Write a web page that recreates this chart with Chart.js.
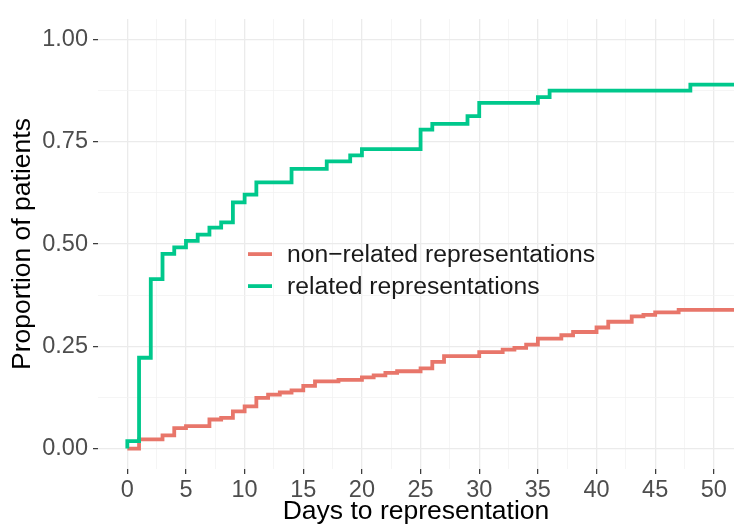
<!DOCTYPE html>
<html>
<head>
<meta charset="utf-8">
<script src="https://cdn.jsdelivr.net/npm/chart.js@4"></script>
<style>
  body { margin: 0; background: #fff; }
  #wrap { width: 734px; height: 525px; }
</style>
</head>
<body>
<div id="wrap"><canvas id="kmChart"></canvas></div>
<script>
// data
const seriesNames = ['non\u2212related representations', 'related representations'];

const nonRelatedDays = [0, 1, 3, 4, 5, 7, 8, 9, 10, 11, 12, 13, 14, 15, 16, 18, 20, 21, 22, 23, 25, 26, 27, 30, 32, 33, 34, 35, 37, 38, 40, 41, 43, 44, 45, 47, 52];
const nonRelatedValues = [0, 0.0225, 0.032, 0.050, 0.055, 0.071, 0.075, 0.091, 0.103, 0.124, 0.132, 0.137, 0.142, 0.153, 0.164, 0.168, 0.174, 0.179, 0.185, 0.189, 0.196, 0.212, 0.226, 0.236, 0.242, 0.246, 0.254, 0.269, 0.277, 0.285, 0.296, 0.310, 0.323, 0.327, 0.333, 0.339, 0.339];

const relatedDays = [0, 0, 1, 2, 3, 4, 5, 6, 7, 8, 9, 10, 11, 14, 17, 19, 20, 25, 26, 29, 30, 35, 36, 48, 52];
const relatedValues = [0, 0.018, 0.222, 0.414, 0.476, 0.492, 0.508, 0.523, 0.540, 0.553, 0.602, 0.621, 0.651, 0.684, 0.702, 0.717, 0.732, 0.780, 0.794, 0.813, 0.845, 0.859, 0.875, 0.890, 0.890];

const xTicks = [0, 2.5, 5, 7.5, 10, 12.5, 15, 17.5, 20, 22.5, 25, 27.5, 30, 32.5, 35, 37.5, 40, 42.5, 45, 47.5, 50];
const yTicks = [0, 0.125, 0.25, 0.375, 0.5, 0.625, 0.75, 0.875, 1];

const colors = ['#E8766A', '#00C88C'];

function toPoints(days, values) {
    return days.map((d, i) => ({ x: d, y: values[i] }));
}

const isMajorX = v => v % 5 === 0;
const isMajorY = v => Math.abs(v * 4 - Math.round(v * 4)) < 1e-9;

// legend inside the panel, no box
const insideLegend = {
    id: 'insideLegend',
    afterDraw(chart) {
        const ctx = chart.ctx;
        const a = chart.chartArea;
        const x0 = a.left + 150;
        const rows = [a.top + 235, a.top + 267];
        ctx.save();
        ctx.font = '24.7px "Liberation Sans", Arial, sans-serif';
        ctx.textBaseline = 'middle';
        ctx.textAlign = 'left';
        seriesNames.forEach((name, i) => {
            ctx.strokeStyle = colors[i];
            ctx.lineWidth = 3.8;
            ctx.beginPath();
            ctx.moveTo(x0, rows[i]);
            ctx.lineTo(x0 + 24, rows[i]);
            ctx.stroke();
            ctx.fillStyle = '#1A1A1A';
            ctx.fillText(name, x0 + 39, rows[i] + 1);
        });
        ctx.restore();
    }
};

const ctx = document.getElementById('kmChart').getContext('2d');
const kmChart = new Chart(ctx, {
    type: 'line',
    data: {
        datasets: [
            {
                label: seriesNames[0],
                data: toPoints(nonRelatedDays, nonRelatedValues),
                borderColor: colors[0],
                order: 1
            },
            {
                label: seriesNames[1],
                data: toPoints(relatedDays, relatedValues),
                borderColor: colors[1],
                order: 0
            }
        ]
    },
    options: {
        responsive: true,
        maintainAspectRatio: false,
        animation: false,
        layout: { padding: { top: 13, right: 0, left: 0, bottom: 0 } },
        elements: {
            line: { borderWidth: 3.8, stepped: true, tension: 0, fill: false, borderJoinStyle: 'miter', borderCapStyle: 'butt' },
            point: { radius: 0, hoverRadius: 0 }
        },
        plugins: {
            legend: { display: false },
            tooltip: { enabled: false }
        },
        scales: {
            x: {
                type: 'linear',
                min: -2.5,
                max: 51.72,
                afterBuildTicks: s => { s.ticks = xTicks.map(v => ({ value: v })); },
                afterFit: s => { s.height = 56; },
                border: { display: false },
                grid: {
                    color: c => isMajorX(c.tick.value) ? '#EBEBEB' : '#F3F3F3',
                    lineWidth: c => isMajorX(c.tick.value) ? 1.3 : 0.8,
                    tickColor: c => isMajorX(c.tick.value) ? '#333333' : 'rgba(0,0,0,0)',
                    tickWidth: 1.2,
                    tickLength: 5
                },
                ticks: {
                    autoSkip: false,
                    maxRotation: 0,
                    padding: 2,
                    color: '#4D4D4D',
                    font: { family: '"Liberation Sans", Arial, sans-serif', size: 23.5 },
                    callback: v => isMajorX(v) ? String(v) : ''
                },
                title: {
                    display: true,
                    text: 'Days to representation',
                    color: '#000',
                    font: { family: '"Liberation Sans", Arial, sans-serif', size: 26.5, lineHeight: 1 },
                    padding: { top: 0, bottom: 0 }
                }
            },
            y: {
                type: 'linear',
                min: -0.05,
                max: 1.05,
                afterBuildTicks: s => { s.ticks = yTicks.map(v => ({ value: v })); },
                afterFit: s => { s.width = 98; },
                border: { display: false },
                grid: {
                    color: c => isMajorY(c.tick.value) ? '#EBEBEB' : '#F3F3F3',
                    lineWidth: c => isMajorY(c.tick.value) ? 1.3 : 0.8,
                    tickColor: c => isMajorY(c.tick.value) ? '#333333' : 'rgba(0,0,0,0)',
                    tickWidth: 1.2,
                    tickLength: 5
                },
                ticks: {
                    autoSkip: false,
                    padding: 5,
                    color: '#4D4D4D',
                    font: { family: '"Liberation Sans", Arial, sans-serif', size: 23.5 },
                    callback: v => isMajorY(v) ? v.toFixed(2) : ''
                },
                title: {
                    display: true,
                    text: 'Proportion of patients',
                    color: '#000',
                    font: { family: '"Liberation Sans", Arial, sans-serif', size: 26.5, lineHeight: 1 },
                    padding: { top: 9, bottom: 0 }
                }
            }
        }
    },
    plugins: [insideLegend]
});
</script>
</body>
</html>
